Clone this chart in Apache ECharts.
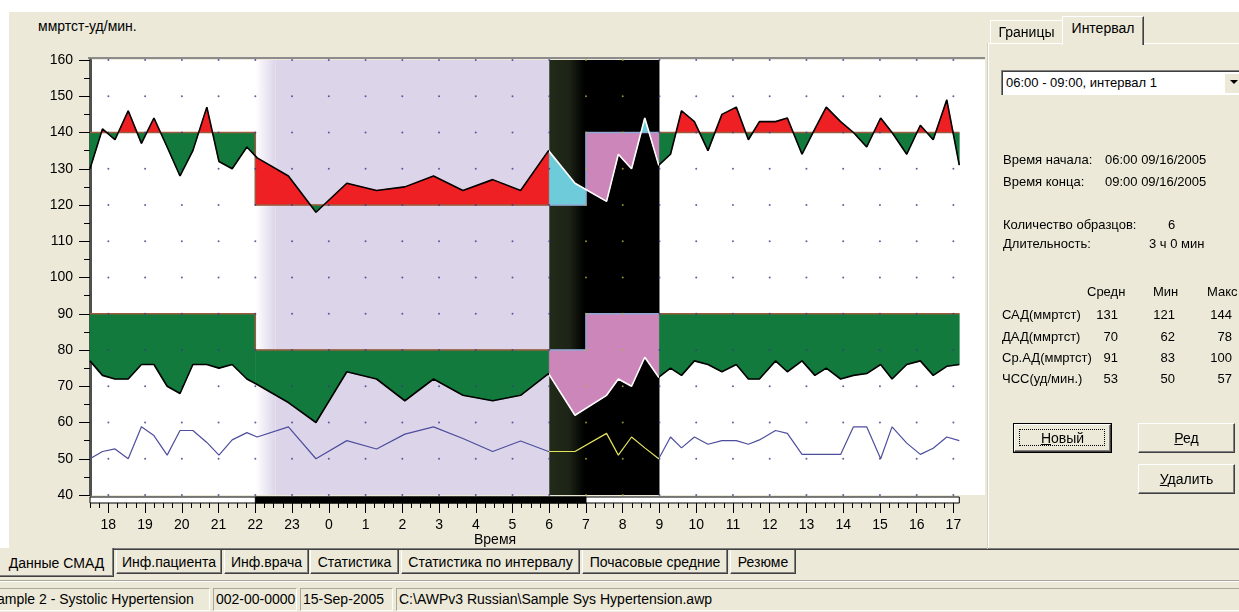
<!DOCTYPE html>
<html>
<head>
<meta charset="utf-8">
<script src="https://cdn.jsdelivr.net/npm/echarts@6/dist/echarts.min.js"></script>
<style>
html,body{margin:0;padding:0;}
body{width:1239px;height:612px;background:#ece9d8;overflow:hidden;position:relative;font-family:"Liberation Sans",Arial,sans-serif;color:#000;}
.a{position:absolute;white-space:nowrap;}
.t13{font-size:13px;line-height:16px;}
.t14{font-size:14px;line-height:16px;}
.btab{position:absolute;top:550px;height:24px;border-left:1px solid #fff;border-right:1px solid #404040;border-bottom:1px solid #404040;box-shadow:inset -1px -1px #808080;font-size:14px;line-height:24px;text-align:center;background:#ece9d8;box-sizing:border-box;white-space:nowrap;}
.sb{position:absolute;top:588px;height:23px;border-top:1px solid #aca899;border-left:1px solid #aca899;border-right:1px solid #fff;border-bottom:1px solid #fff;box-sizing:border-box;font-size:14px;line-height:21px;padding-left:2px;white-space:nowrap;overflow:hidden;}
.btn{position:absolute;background:#ece9d8;border-top:1px solid #fff;border-left:1px solid #fff;border-right:1px solid #404040;border-bottom:1px solid #404040;box-shadow:inset -1px -1px #808080;box-sizing:border-box;text-align:center;font-size:14px;}
u{text-decoration:underline;}
</style>
</head>
<body>
<div class="a" style="left:0;top:0;width:1239px;height:12px;background:#fff"></div>
<div class="a" style="left:0;top:12px;width:9px;height:536px;background:#fff"></div>
<div class="a t14" style="left:38px;top:18px;">ммртст-уд/мин.</div>
<!-- main panel bottom border -->
<div class="a" style="left:0;top:548px;width:988px;height:1px;background:#808080"></div>
<div class="a" style="left:0;top:549px;width:988px;height:1px;background:#404040"></div>

<div id="chart" class="a" style="left:0;top:0;width:988px;height:548px;"></div>

<!-- right panel -->
<div class="a" style="left:988px;top:43px;width:260px;height:505px;border-left:1px solid #fff;border-top:1px solid #fff;box-shadow:-1px 0 #d4d0c8;"></div>
<div class="a" style="left:988px;top:548px;width:260px;height:1px;background:#808080"></div>
<div class="a" style="left:988px;top:549px;width:260px;height:1px;background:#404040"></div>
<div class="a t14" style="left:990px;top:20px;width:72px;height:23px;border-top:1px solid #fff;border-left:1px solid #fff;box-sizing:border-box;text-align:center;line-height:22px;">Границы</div>
<div class="a t14" style="left:1062px;top:16px;width:82px;height:29px;border-top:1px solid #fff;border-left:1px solid #fff;border-right:1px solid #404040;box-shadow:inset -1px 0 #808080;box-sizing:border-box;text-align:center;line-height:22px;background:#ece9d8;">Интервал</div>
<div class="a t13" style="left:1001px;top:70px;width:250px;height:25px;background:#fff;border-top:1px solid #808080;border-left:1px solid #808080;box-shadow:inset 1px 1px #404040;box-sizing:border-box;padding-left:4px;line-height:24px;">06:00 - 09:00, интервал 1</div>
<div class="a" style="left:1224px;top:73px;width:18px;height:20px;background:#ece9d8;border-top:1px solid #fff;border-left:1px solid #fff;box-sizing:border-box;"></div>
<div class="a" style="left:1230px;top:80px;width:0;height:0;border-left:4px solid transparent;border-right:4px solid transparent;border-top:4px solid #000;"></div>

<div class="a t13" style="left:1003px;top:152px;">Время начала:</div>
<div class="a t13" style="left:1105px;top:152px;">06:00 09/16/2005</div>
<div class="a t13" style="left:1003px;top:174px;">Время конца:</div>
<div class="a t13" style="left:1105px;top:174px;">09:00 09/16/2005</div>
<div class="a t13" style="left:1003px;top:217px;">Количество образцов:</div>
<div class="a t13" style="left:1168px;top:217px;">6</div>
<div class="a t13" style="left:1003px;top:236px;">Длительность:</div>
<div class="a t13" style="left:1149px;top:236px;">3 ч 0 мин</div>

<div class="a t13" style="left:1087px;top:284px;">Средн</div>
<div class="a t13" style="left:1153px;top:284px;">Мин</div>
<div class="a t13" style="left:1207px;top:284px;">Макс</div>

<div class="a t13" style="left:1002px;top:307px;">САД(ммртст)</div>
<div class="a t13" style="left:1078px;top:307px;width:40px;text-align:right;">131</div>
<div class="a t13" style="left:1135px;top:307px;width:40px;text-align:right;">121</div>
<div class="a t13" style="left:1192px;top:307px;width:40px;text-align:right;">144</div>
<div class="a t13" style="left:1002px;top:329px;">ДАД(ммртст)</div>
<div class="a t13" style="left:1078px;top:329px;width:40px;text-align:right;">70</div>
<div class="a t13" style="left:1135px;top:329px;width:40px;text-align:right;">62</div>
<div class="a t13" style="left:1192px;top:329px;width:40px;text-align:right;">78</div>
<div class="a t13" style="left:1002px;top:350px;">Ср.АД(ммртст)</div>
<div class="a t13" style="left:1078px;top:350px;width:40px;text-align:right;">91</div>
<div class="a t13" style="left:1135px;top:350px;width:40px;text-align:right;">83</div>
<div class="a t13" style="left:1192px;top:350px;width:40px;text-align:right;">100</div>
<div class="a t13" style="left:1002px;top:371px;">ЧСС(уд/мин.)</div>
<div class="a t13" style="left:1078px;top:371px;width:40px;text-align:right;">53</div>
<div class="a t13" style="left:1135px;top:371px;width:40px;text-align:right;">50</div>
<div class="a t13" style="left:1192px;top:371px;width:40px;text-align:right;">57</div>

<div class="a" style="left:1013px;top:423px;width:99px;height:30px;border:1px solid #000;box-sizing:border-box;"></div>
<div class="btn" style="left:1014px;top:424px;width:97px;height:28px;line-height:26px;"><span style="position:absolute;left:4px;top:4px;right:5px;bottom:5px;border:1px dotted #000;"></span><u>Н</u>овый</div>
<div class="btn" style="left:1138px;top:423px;width:97px;height:30px;line-height:28px;"><u>Р</u>ед</div>
<div class="btn" style="left:1138px;top:464px;width:97px;height:30px;line-height:28px;"><u>У</u>далить</div>

<!-- bottom tabs -->
<div class="btab" style="left:0;top:548px;height:29px;width:114px;line-height:30px;border-left:none;z-index:2;">Данные СМАД</div>
<div class="btab" style="left:116px;width:106px;">Инф.пациента</div>
<div class="btab" style="left:224px;width:85px;">Инф.врача</div>
<div class="btab" style="left:310px;width:89px;">Статистика</div>
<div class="btab" style="left:401px;width:179px;">Статистика по интервалу</div>
<div class="btab" style="left:582px;width:146px;">Почасовые средние</div>
<div class="btab" style="left:730px;width:66px;">Резюме</div>
<div class="a" style="left:0;top:580px;width:1239px;height:1px;background:#aca899"></div>
<div class="a" style="left:0;top:581px;width:1239px;height:1px;background:#fff"></div>

<div class="sb" style="left:-6px;width:216px;">ample 2 - Systolic Hypertension</div>
<div class="sb" style="left:213px;width:84px;">002-00-0000</div>
<div class="sb" style="left:300px;width:93px;">15-Sep-2005</div>
<div class="sb" style="left:396px;width:850px;">C:\AWPv3 Russian\Sample Sys Hypertension.awp</div>

<script>
// ---------------- DATA ----------------
const HOURS = [17.5,17.84,18.18,18.54,18.9,19.24,19.6,19.95,20.3,20.68,21.01,21.37,21.77,22.05,
  22.9,23.65,24.49,25.3,26.07,26.85,27.65,28.46,29.22,29.98,
  30.7,31.56,31.88,32.24,32.6,32.98,
  33.3,33.6,33.95,34.32,34.7,35.09,35.42,35.72,36.16,36.48,36.88,37.23,37.54,37.93,38.28,38.64,39.02,39.33,39.73,40.1,40.45,40.82,41.16];
const SYS = [130,141,138,146,137,144,136,128,135,147,132,130,136,133,
  128,118,126,124,125,128,124,127,124,135,
  126,121,134,130,144,131,
  134,146,143,135,145,147,138,143,143,144,134,141,147,143,140,136,144,140,134,142,138,149,131];
const DIA = [77,73,72,72,76,76,70,68,76,76,75,76,72,70.5,
  65.5,60,74,72,66,72,67.5,66,67.5,73.5,
  62,67.5,72,70,78,72.5,
  75,73,77,76,74,76,72,72,77,74,77,73,75,72,73,73.5,76,72,76,77,73,75.5,76];
const HR = [50,52,52.7,50,58.8,56.4,51,57.8,57.8,54.5,51,55.2,57.2,56,
  58.8,50,55,52.7,56.8,58.8,55.6,52,54.9,52,
  52,57,51,56,53,50,
  56,53,56,54,55,55,54,55.2,57.8,57,51.2,51.2,51.2,51.2,58.8,58.8,50,58.8,54.3,51.2,52.9,56,55];
const SYS_LIMITS = [140, 120];      // day, night
const DIA_LIMITS = [90, 80];        // day, night
const NIGHT_LIMIT_SPAN = [22, 31];  // limits switch (22:00 - 07:00)
const NIGHT_SHADE = [22, 30];       // lavender night background
const INTERVAL = [30, 33];          // selected interval 06:00 - 09:00
const HOUR_TICKS = [18,19,20,21,22,23,24,25,26,27,28,29,30,31,32,33,34,35,36,37,38,39,40,41];
const Y_LEVELS = [40,50,60,70,80,90,100,110,120,130,140,150,160];
const TIMELINE = [[17.5, 41.16, 0], [22, 31, 1]]; // [start, end, dark?]

// ---------------- STYLE ----------------
const RED='#ee2024', GREEN='#137a3d', CYAN='#6ecbd9', PINK='#cd86ba', LAV='#dcd5e9';
const FONT='"Liberation Sans", Arial, sans-serif';
const X_MIN=17.5, X_MAX=41.86;

function limitAt(t, lim){ return (t > NIGHT_LIMIT_SPAN[0] && t < NIGHT_LIMIT_SPAN[1]) ? lim[1] : lim[0]; }
function interp(T,V,t){
  for(let i=0;i<T.length-1;i++){ if(t>=T[i] && t<=T[i+1]) return V[i]+(V[i+1]-V[i])*(t-T[i])/(T[i+1]-T[i]); }
  return V[V.length-1];
}
function buildAreas(T,V,lim){
  const xs=T.slice();
  [NIGHT_LIMIT_SPAN[0],NIGHT_LIMIT_SPAN[1],INTERVAL[0],INTERVAL[1]].forEach(c=>{ if(c>T[0]&&c<T[T.length-1]&&xs.indexOf(c)<0) xs.push(c); });
  xs.sort((a,b)=>a-b);
  const polys=[]; let cur=null;
  function add(x0,v0,x1,v1,L,color){
    if(cur && cur.color===color && cur.L===L && Math.abs(cur.top[cur.top.length-1][0]-x0)<1e-9) cur.top.push([x1,v1]);
    else { if(cur) polys.push(cur); cur={color:color,L:L,top:[[x0,v0],[x1,v1]]}; }
  }
  for(let k=0;k<xs.length-1;k++){
    const a=xs[k], b=xs[k+1]; if(b-a<1e-9) continue;
    const m=(a+b)/2, L=limitAt(m,lim), inside=m>INTERVAL[0]&&m<INTERVAL[1];
    const va=interp(T,V,a), vb=interp(T,V,b);
    const col=up=>inside?(up?CYAN:PINK):(up?RED:GREEN);
    if((va-L)*(vb-L)<0){ const c=a+(b-a)*(L-va)/(vb-va); add(a,va,c,L,L,col(va>L)); add(c,L,b,vb,L,col(vb>L)); }
    else add(a,va,b,vb,L,col((va+vb)/2>L));
  }
  if(cur) polys.push(cur);
  return polys.map(p=>({color:p.color, pts:p.top.concat([[p.top[p.top.length-1][0],p.L],[p.top[0][0],p.L]])}));
}
function limitLine(lim){
  const end=HOURS[HOURS.length-1];
  return [[HOURS[0],lim[0]],[NIGHT_LIMIT_SPAN[0],lim[0]],[NIGHT_LIMIT_SPAN[0],lim[1]],[NIGHT_LIMIT_SPAN[1],lim[1]],[NIGHT_LIMIT_SPAN[1],lim[0]],[end,lim[0]]];
}
function areaSeries(polys){
  return {type:'custom', xAxisIndex:0, yAxisIndex:0, z:3, silent:true,
    data: polys.map((p,i)=>[p.pts[0][0], p.pts[0][1], i]), encode:{x:0,y:1},
    renderItem:(params,api)=>{ const p=polys[params.dataIndex];
      return {type:'polygon', shape:{points:p.pts.map(q=>api.coord(q))}, style:{fill:p.color, stroke:p.color, lineWidth:0.6}}; }
  };
}
const zip=(T,V)=>T.map((t,i)=>[t,V[i]]);
const inInt=x=>x>INTERVAL[0]&&x<INTERVAL[1];

const dots=[]; HOUR_TICKS.forEach(h=>Y_LEVELS.forEach(v=>dots.push([h,v])));
const quarterTicks=[]; for(let q=X_MIN;q<=HOUR_TICKS[HOUR_TICKS.length-1]+1e-9;q+=0.25) quarterTicks.push(q);

const sysAreas=buildAreas(HOURS,SYS,SYS_LIMITS);
const diaAreas=buildAreas(HOURS,DIA,DIA_LIMITS);

const lineCommon={type:'line', xAxisIndex:0, yAxisIndex:0, showSymbol:false, symbol:'none', silent:true};
const series=[
  {type:'line', xAxisIndex:0, yAxisIndex:0, data:[[X_MIN,40]], symbol:'none', lineStyle:{width:0}, z:1, silent:true,
    markArea:{silent:true, data:[
      [{xAxis:NIGHT_SHADE[0], itemStyle:{color:{type:'linear',x:0,y:0,x2:1,y2:0,colorStops:[{offset:0,color:'#ffffff'},{offset:1,color:LAV}]}}},{xAxis:NIGHT_SHADE[0]+0.55}],
      [{xAxis:NIGHT_SHADE[0]+0.55, itemStyle:{color:LAV}},{xAxis:NIGHT_SHADE[1]}],
      [{xAxis:INTERVAL[0], itemStyle:{color:{type:'linear',x:0,y:0,x2:1,y2:0,colorStops:[{offset:0,color:'#222a19'},{offset:0.18,color:'#1d2416'},{offset:0.32,color:'#000'},{offset:1,color:'#000'}]}}},{xAxis:INTERVAL[1]}]
    ]}},
  areaSeries(sysAreas),
  areaSeries(diaAreas),
  Object.assign({}, lineCommon, {data:limitLine(SYS_LIMITS), lineStyle:{width:1.5}, z:4}),
  Object.assign({}, lineCommon, {data:limitLine(DIA_LIMITS), lineStyle:{width:1.5}, z:4}),
  {type:'scatter', xAxisIndex:0, yAxisIndex:0, data:dots, symbolSize:2, z:5, silent:true,
    itemStyle:{color:p=>inInt(p.value[0])?'#b0b040':'#3a3a88'}},
  Object.assign({}, lineCommon, {data:zip(HOURS,SYS), lineStyle:{width:1.6}, z:6}),
  Object.assign({}, lineCommon, {data:zip(HOURS,DIA), lineStyle:{width:1.6}, z:6}),
  Object.assign({}, lineCommon, {data:zip(HOURS,HR), lineStyle:{width:1.2}, z:6}),
  {type:'custom', xAxisIndex:1, yAxisIndex:1, silent:true, z:3,
    data:TIMELINE, encode:{x:[0,1]},
    renderItem:(params,api)=>{ const a=api.coord([api.value(0),1]), b=api.coord([api.value(1),0]); const dark=api.value(2)===1;
      return {type:'rect', shape:{x:a[0], y:a[1], width:b[0]-a[0], height:b[1]-a[1]}, style:{fill:dark?'#000':'#fff', stroke:'#000', lineWidth:1}}; }}
];

const chart=echarts.init(document.getElementById('chart'), null, {renderer:'canvas'});
chart.setOption({
  animation:false,
  backgroundColor:'transparent',
  textStyle:{fontFamily:FONT},
  grid:[
    {left:90, top:60, width:895, height:435, show:true, backgroundColor:'#fff', borderWidth:0},
    {left:90, top:497, width:895, height:6, show:false}
  ],
  xAxis:[
    {type:'value', gridIndex:0, min:X_MIN, max:X_MAX, show:false},
    {type:'value', gridIndex:1, min:X_MIN, max:X_MAX, position:'bottom',
      axisLine:{show:false}, splitLine:{show:false},
      axisTick:{show:true, customValues:HOUR_TICKS, length:10, lineStyle:{color:'#000', width:1}},
      axisLabel:{show:true, customValues:HOUR_TICKS, formatter:v=>String(v%24), fontSize:14, color:'#000', margin:15, fontFamily:FONT}},
    {type:'value', gridIndex:1, min:X_MIN, max:X_MAX, position:'bottom',
      axisLine:{show:false}, splitLine:{show:false}, axisLabel:{show:false},
      axisTick:{show:true, customValues:quarterTicks, length:5, lineStyle:{color:'#000', width:1}}}
  ],
  yAxis:[
    {type:'value', gridIndex:0, min:40, max:160, interval:10,
      axisLine:{show:true, lineStyle:{color:'#505050', width:3}},
      axisTick:{show:true, length:11, lineStyle:{color:'#000', width:1}},
      minorTick:{show:true, splitNumber:2, length:6, lineStyle:{color:'#000', width:1}},
      axisLabel:{fontSize:14, color:'#000', margin:17, fontFamily:FONT},
      splitLine:{show:false}},
    {type:'value', gridIndex:1, min:0, max:1, show:false}
  ],
  visualMap:[
    {type:'piecewise', show:false, dimension:0, seriesIndex:[6,7], pieces:[{lt:INTERVAL[0],color:'#000'},{gte:INTERVAL[0],lte:INTERVAL[1],color:'#fff'},{gt:INTERVAL[1],color:'#000'}]},
    {type:'piecewise', show:false, dimension:0, seriesIndex:[8], pieces:[{lt:INTERVAL[0],color:'#4d4d9e'},{gte:INTERVAL[0],lte:INTERVAL[1],color:'#e4e45c'},{gt:INTERVAL[1],color:'#4d4d9e'}]},
    {type:'piecewise', show:false, dimension:0, seriesIndex:[3,4], pieces:[{lt:INTERVAL[0],color:'#9c5b3c'},{gte:INTERVAL[0],lte:INTERVAL[1],color:'#8fa8d4'},{gt:INTERVAL[1],color:'#9c5b3c'}]}
  ],
  graphic:[
    {type:'rect', shape:{x:88, y:57, width:897, height:2}, style:{fill:'#8c8c8c'}, silent:true},
    {type:'text', left:474, top:533, style:{text:'Время', font:'14px '+FONT, fill:'#000'}, silent:true}
  ],
  series:series
});
</script>
</body>
</html>
